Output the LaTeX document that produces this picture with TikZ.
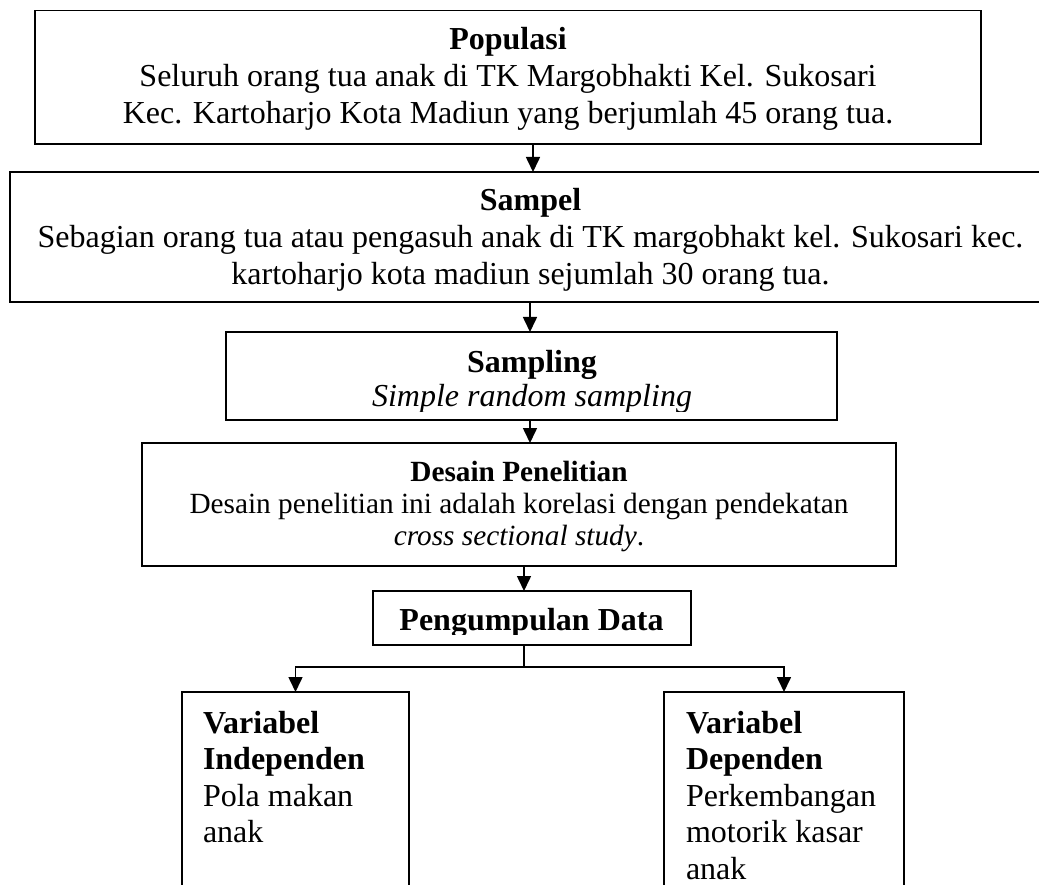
\documentclass[tikz,border=0pt]{standalone}
\usepackage{fontspec}
\setmainfont{Liberation Serif}
\usetikzlibrary{arrows.meta}
\tikzset{
  box/.style={draw, line width=1.6pt, inner sep=0pt, outer sep=0pt},
  txt/.style={inner sep=0pt, outer sep=0pt, align=center, font=\fontsize{32}{37}\selectfont},
  smalltxt/.style={inner sep=0pt, outer sep=0pt, align=center, font=\fontsize{29.3}{32}\selectfont},
  lefttxt/.style={inner sep=0pt, outer sep=0pt, align=left, anchor=base west, font=\fontsize{32}{36.5}\selectfont},
  conn/.style={line width=1.6pt},
  arr/.style={line width=1.6pt, -{Triangle[length=15pt,width=14pt]}}
}
\begin{document}
\begin{tikzpicture}[x=1pt,y=-1pt]
\useasboundingbox (0,0) rectangle (1039,885);
\clip (0,0) rectangle (1039,885);

% boxes
\node[box, minimum width=946pt, minimum height=133.3pt] (pop) at (508,77.35) {};
\node[box, minimum width=1050pt, minimum height=130pt] (samp) at (535,237) {};
\node[box, minimum width=611pt, minimum height=88pt] (smpl) at (531.5,376) {};
\node[box, minimum width=754pt, minimum height=123pt] (des) at (519,504.5) {};
\node[box, minimum width=318pt, minimum height=54pt] (peng) at (532,618) {};
\node[box, minimum width=227pt, minimum height=240pt, anchor=north west] (indep) at (182,692) {};
\node[box, minimum width=240pt, minimum height=240pt, anchor=north west] (dep) at (664,692) {};

% texts (base anchor = baseline of the last line)
\node[txt, anchor=base] (popt) at (508,124) {\textbf{Populasi}\\Seluruh orang tua anak di TK Margobhakti Kel. Sukosari\\Kec. Kartoharjo Kota Madiun yang berjumlah 45 orang tua.};
\node[txt, anchor=base] (sampt) at (530.5,285) {\textbf{Sampel}\\Sebagian orang tua atau pengasuh anak di TK margobhakt kel. Sukosari kec.\\kartoharjo kota madiun sejumlah 30 orang tua.};
\begin{scope}
  \clip (226,332) rectangle (837,411);
  \node[txt, anchor=base, font=\fontsize{32}{34}\selectfont] (smplt) at (532,406.7) {\textbf{Sampling}\\\textit{Simple random sampling}};
\end{scope}
\node[smalltxt, anchor=base] (dest) at (519,545) {\textbf{Desain Penelitian}\\Desain penelitian ini adalah korelasi dengan pendekatan\\\textit{cross sectional study}.};
\begin{scope}
  \clip (373,591) rectangle (691,634.3);
  \node[txt, anchor=base] (pengt) at (531.5,630) {\textbf{Pengumpulan Data}};
\end{scope}
\node[lefttxt] (indept) at (203,842.5) {\textbf{Variabel}\\\textbf{Independen}\\Pola makan\\anak};
\node[lefttxt] (dept) at (686,879) {\textbf{Variabel}\\\textbf{Dependen}\\Perkembangan\\motorik kasar\\anak};

% connectors
\coordinate (a1) at (533,0);
\coordinate (a2) at (530,0);
\coordinate (a4) at (524,0);
\coordinate (j) at (524,667);
\draw[arr] (pop.south -| a1) -- (samp.north -| a1);
\draw[arr] (samp.south -| a2) -- (smpl.north -| a2);
\draw[arr] (smpl.south -| a2) -- (des.north -| a2);
\draw[arr] (des.south -| a4) -- (peng.north -| a4);
\draw[conn] (peng.south -| j) -- (j);
\draw[arr] (j) -| (indep.north);
\draw[arr] (j) -| (dep.north);
\end{tikzpicture}
\end{document}
